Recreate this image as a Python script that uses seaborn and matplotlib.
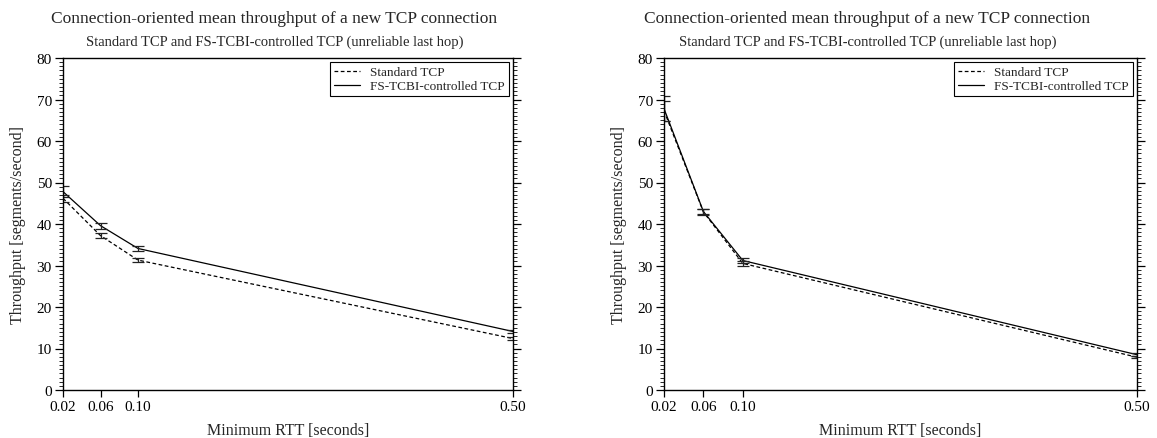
import matplotlib
matplotlib.use("Agg")
import matplotlib.pyplot as plt
from matplotlib.ticker import MultipleLocator, FixedLocator
import seaborn as sns
import pandas as pd

rtt = [0.02, 0.06, 0.10, 0.50]
rtt_labels = ["0.02", "0.06", "0.10", "0.50"]
series_names = ["Standard TCP", "FS-TCBI-controlled TCP"]

# left panel
left_std = [46.2, 37.2, 31.3, 12.4]
left_std_err = [0.8, 0.6, 0.4, 0.4]
left_fs = [47.8, 39.6, 34.1, 14.1]
left_fs_err = [1.3, 0.7, 0.7, 0.4]

# right panel
right_std = [67.3, 42.9, 30.5, 7.9]
right_std_err = [2.4, 0.7, 0.6, 0.3]
right_fs = [67.8, 43.0, 31.2, 8.5]
right_fs_err = [3.0, 0.7, 0.6, 0.3]

title = "Connection-oriented mean throughput of a new TCP connection"
subtitle = "Standard TCP and FS-TCBI-controlled TCP (unreliable last hop)"
xlabel = "Minimum RTT [seconds]"
ylabel = "Throughput [segments/second]"

sns.set_theme(style="ticks")
plt.rcParams["font.family"] = ["Liberation Serif", "DejaVu Serif"]
plt.rcParams["axes.linewidth"] = 1.0

fig = plt.figure(figsize=(11.57, 4.39), dpi=100)
ax1 = fig.add_axes([63 / 1157, 48 / 439, 450 / 1157, 332 / 439])
ax2 = fig.add_axes([664 / 1157, 48 / 439, 473 / 1157, 332 / 439])


def draw(ax, std, std_err, fs, fs_err, title_x):
    df = pd.DataFrame({
        "rtt": rtt * 2,
        "thr": std + fs,
        "series": [series_names[0]] * len(rtt) + [series_names[1]] * len(rtt),
    })
    sns.lineplot(data=df, x="rtt", y="thr", style="series",
                 style_order=series_names,
                 dashes={series_names[0]: (3, 2), series_names[1]: ""},
                 color="black", linewidth=0.9, ax=ax, legend=True)
    ax.errorbar(rtt, std, yerr=std_err, fmt="none", ecolor="#222222",
                elinewidth=0.9, capsize=4, capthick=0.9)
    ax.errorbar(rtt, fs, yerr=fs_err, fmt="none", ecolor="#222222",
                elinewidth=0.9, capsize=4, capthick=0.9)
    ax.set_xlim(0.02, 0.50)
    ax.set_ylim(0, 80)
    ax.xaxis.set_major_locator(FixedLocator(rtt))
    ax.set_xticklabels(rtt_labels)
    ax.yaxis.set_major_locator(MultipleLocator(10))
    ax.yaxis.set_minor_locator(MultipleLocator(1))
    ax.tick_params(axis="y", which="major", direction="out", length=6,
                   width=0.9, left=True, right=True, labelsize=11, pad=2,
                   colors="black")
    ax.tick_params(axis="y", which="minor", direction="out", length=3,
                   width=0.7, left=True, right=True)
    ax.tick_params(axis="x", which="major", direction="out", length=5,
                   width=0.9, top=False, labelsize=11, pad=2, colors="black")
    for s in ax.spines.values():
        s.set_color("black")
        s.set_linewidth(1.0)
    ax.set_xlabel(xlabel, fontsize=11.5, labelpad=7)
    ax.set_ylabel(ylabel, fontsize=11.5, labelpad=8)
    leg = ax.legend(loc="upper right", fontsize=9.5, frameon=True,
                    fancybox=False, edgecolor="black", framealpha=1,
                    borderpad=0.3, labelspacing=0.15, handlelength=2.0,
                    handletextpad=0.8, borderaxespad=0.3)
    leg.get_frame().set_linewidth(0.8)
    ax.text(title_x, 1.095, title, transform=ax.transAxes, ha="center",
            va="bottom", fontsize=12.5)
    ax.text(title_x, 1.03, subtitle, transform=ax.transAxes, ha="center",
            va="bottom", fontsize=10.5)


draw(ax1, left_std, left_std_err, left_fs, left_fs_err, 0.47)
draw(ax2, right_std, right_std_err, right_fs, right_fs_err, 0.43)

fig.savefig("out.png", dpi=100)
